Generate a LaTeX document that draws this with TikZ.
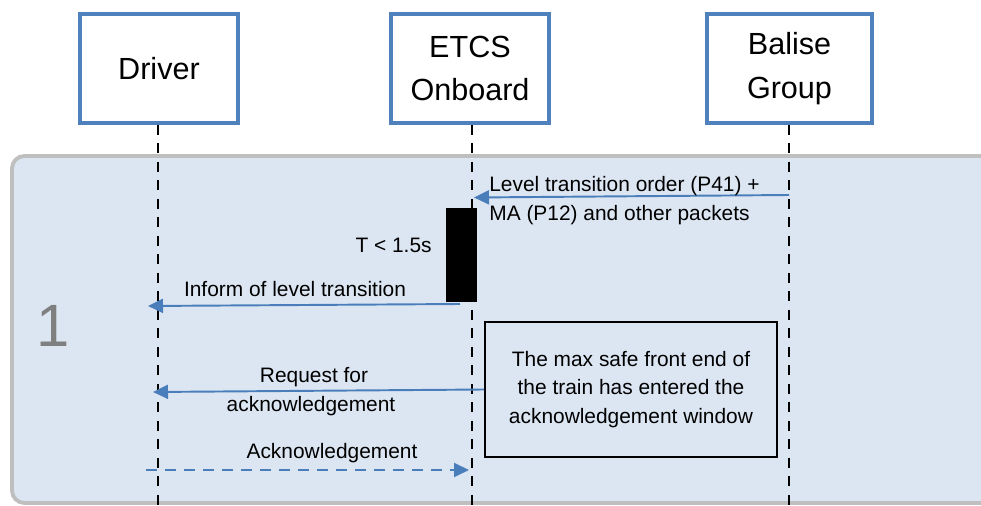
\documentclass[tikz,border=0pt]{standalone}
\usepackage{fontspec}
\setmainfont{Liberation Sans}
\usetikzlibrary{arrows.meta}
\definecolor{boxblue}{HTML}{4F81BD}
\definecolor{msgblue}{HTML}{4A7EBB}
\definecolor{panelfill}{HTML}{DCE6F2}
\definecolor{panelline}{HTML}{BFBFBF}
\definecolor{stepgray}{HTML}{7F7F7F}

\begin{document}
\begin{tikzpicture}[x=0.02cm, y=-0.02cm]
	\tikzset{actor/.style={draw=boxblue, line width=2.2pt, fill=white, minimum width=3.16cm, minimum height=2.18cm, align=center, font=\fontsize{17.4}{24.6}\selectfont}};
	\tikzset{life/.style={line width=1.6pt, dash pattern=on 0.2cm off 0.17cm}};
	\tikzset{msg/.style={draw=msgblue, line width=1.1pt, -{Triangle[length=0.3cm, width=0.28cm]}}};
	\tikzset{lbl/.style={inner sep=0pt, font=\fontsize{11.9}{16.4}\selectfont}};

	\useasboundingbox (0, 0) rectangle (981, 506);

	% step panel
	\begin{scope}
		\clip (0, 0) rectangle (981, 506);
		\draw[panelline, fill=panelfill, line width=2.2pt, rounded corners=0.25cm] (12, 156) rectangle (1010, 503);
	\end{scope}
	\node[stepgray, inner sep=0pt, font=\fontsize{34}{40}\selectfont] (step1) at (53, 325.5) {1};

	% actors
	\node[actor] (driver) at (159, 68.5) {Driver};
	\node[actor] (etcs) at (470, 68.5) {ETCS\\Onboard};
	\node[actor, minimum width=3.3cm] (balise) at (789.5, 68.5) {Balise\\Group};

	\coordinate (driverEnd) at (158, 506);
	\coordinate (etcsEnd) at (472, 506);
	\coordinate (baliseEnd) at (789, 506);

	\draw[life] (driverEnd |- driver.south) to (driverEnd);
	\draw[life] (etcsEnd |- etcs.south) to (etcsEnd);
	\draw[life] (baliseEnd |- balise.south) to (baliseEnd);

	% activation
	\node[fill=black, inner sep=0pt, minimum width=0.62cm, minimum height=1.9cm] (bar) at (461.5, 255) {};
	\node[lbl, anchor=east] (tlim) at (432, 245) {T < 1.5s};

	% note
	\node[draw=black, line width=1.1pt, minimum width=5.84cm, minimum height=2.7cm, align=center, font=\fontsize{11.9}{16.4}\selectfont] (note) at (631, 389.5) {The max safe front end of\\the train has entered the\\acknowledgement window};

	% messages
	\coordinate (bal1) at (789, 195);
	\coordinate (etcs1) at (474, 197.5);
	\coordinate (etcs2) at (460, 304);
	\coordinate (drv2) at (148, 306);
	\coordinate (drv3) at (153, 392);
	\coordinate (drv4) at (146, 470);
	\coordinate (etcs4) at (469, 470);

	\draw[msg] (bal1) to (etcs1);
	\draw[msg] (etcs2) to (drv2);
	\draw[msg] (note.west) to (drv3);
	\draw[msg, dash pattern=on 0.22cm off 0.16cm] (drv4) to (etcs4);

	\node[lbl, anchor=west, align=left] (m1) at (489, 201) {Level transition order (P41) +\\MA (P12) and other packets};
	\node[lbl] (m2) at (295, 289) {Inform of level transition};
	\node[lbl] (m3a) at (314, 377) {Request for};
	\node[lbl] (m3b) at (311, 406) {acknowledgement};
	\node[lbl] (m4) at (332, 453) {Acknowledgement};
\end{tikzpicture}
\end{document}
